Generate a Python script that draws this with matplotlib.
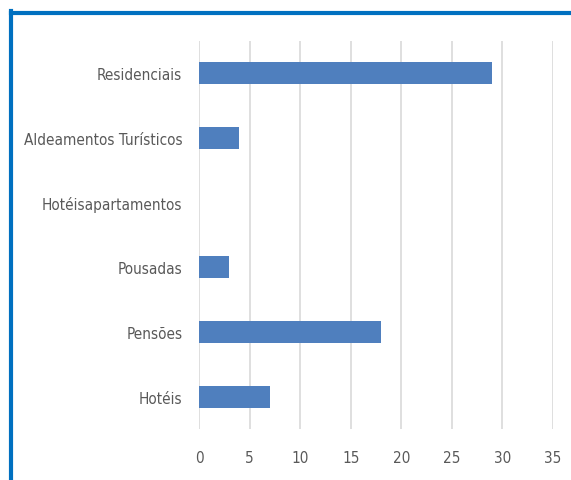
import matplotlib
matplotlib.use('Agg')
import matplotlib.pyplot as plt
from matplotlib.lines import Line2D

categories = ['Hotéis', 'Pensões', 'Pousadas', 'Hotéisapartamentos',
              'Aldeamentos Turísticos', 'Residenciais']
values = [7, 18, 3, 0, 4, 29]
xticks = [0, 5, 10, 15, 20, 25, 30, 35]

plt.rcParams['font.family'] = ['DejaVu Sans']
plt.rcParams['font.stretch'] = 'condensed'
text_color = '#595959'

fig = plt.figure(figsize=(5.71, 4.81), dpi=100)
ax = fig.add_axes([199 / 571, 1 - 430 / 481, 354 / 571, 388 / 481])

ax.barh(range(len(categories)), values, height=0.34, color='#4F7FBE', zorder=3)
ax.set_xlim(0, 35)
ax.set_ylim(-0.5, len(categories) - 0.5)
ax.set_xticks(xticks)
ax.set_yticks(range(len(categories)))
ax.set_yticklabels(categories)
ax.grid(axis='x', color='#D9D9D9', linewidth=1.2, zorder=0)
for s in ax.spines.values():
    s.set_visible(False)
ax.tick_params(axis='both', length=0, labelsize=11, colors=text_color)
ax.tick_params(axis='x', pad=15)
ax.tick_params(axis='y', pad=12)

# blue frame on top and left
fig.add_artist(Line2D([10.5 / 571, 1], [1 - 13.5 / 481, 1 - 13.5 / 481],
                      transform=fig.transFigure, color='#0070C0', linewidth=3))
fig.add_artist(Line2D([10.5 / 571, 10.5 / 571], [0, 1 - 12 / 481],
                      transform=fig.transFigure, color='#0070C0', linewidth=3))

fig.savefig('out.png', dpi=100)
